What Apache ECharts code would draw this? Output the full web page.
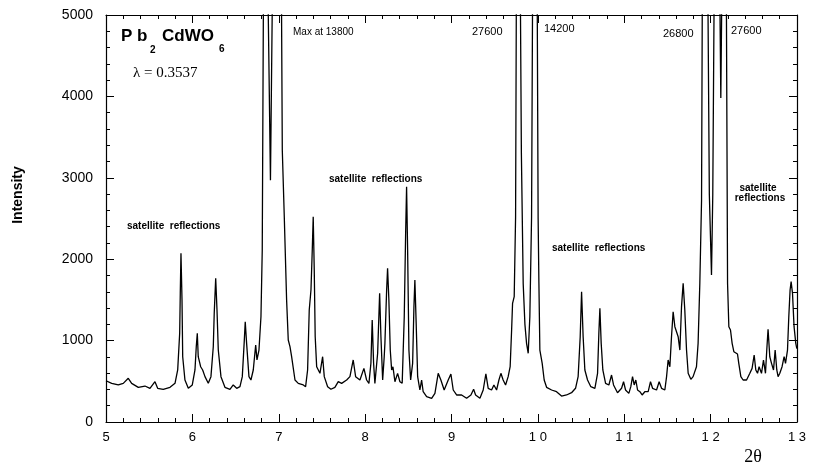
<!DOCTYPE html>
<html>
<head>
<meta charset="utf-8">
<title>Pb2CdWO6</title>
<script src="https://cdn.jsdelivr.net/npm/echarts@6/dist/echarts.min.js"></script>
<style>
  html, body { margin: 0; padding: 0; background: #fff; }
  #chart { width: 816px; height: 468px; }
</style>
</head>
<body>
<div id="chart"></div>
<script>
// 2-theta positions
const twoTheta = [
  5.000, 5.066, 5.142, 5.200, 5.258, 5.297, 5.374, 5.451, 5.509, 5.567,
  5.598, 5.663, 5.741, 5.799, 5.830, 5.853, 5.860, 5.868, 5.880, 5.888,
  5.914, 5.953, 5.999, 6.030, 6.045, 6.057, 6.068, 6.096, 6.119, 6.146,
  6.184, 6.215, 6.242, 6.253, 6.270, 6.285, 6.300, 6.331, 6.377, 6.435,
  6.473, 6.513, 6.551, 6.578, 6.601, 6.612, 6.628, 6.655, 6.678, 6.705,
  6.733, 6.748, 6.771, 6.794, 6.809, 6.823, 6.846, 6.875, 6.904, 6.927,
  6.973, 7.031, 7.041, 7.064, 7.091, 7.110, 7.130, 7.149, 7.188, 7.226,
  7.284, 7.311, 7.334, 7.353, 7.373, 7.388, 7.399, 7.411, 7.422, 7.439,
  7.477, 7.508, 7.527, 7.566, 7.604, 7.650, 7.689, 7.728, 7.786, 7.824,
  7.862, 7.890, 7.940, 7.986, 8.017, 8.044, 8.067, 8.082, 8.098, 8.113,
  8.145, 8.168, 8.183, 8.203, 8.221, 8.229, 8.249, 8.260, 8.275, 8.291,
  8.307, 8.322, 8.345, 8.376, 8.403, 8.429, 8.453, 8.469, 8.480, 8.492,
  8.507, 8.527, 8.550, 8.565, 8.576, 8.591, 8.608, 8.634, 8.654, 8.672,
  8.712, 8.770, 8.808, 8.846, 8.877, 8.915, 8.962, 8.993, 9.020, 9.059,
  9.117, 9.175, 9.225, 9.256, 9.279, 9.329, 9.367, 9.398, 9.425, 9.464,
  9.491, 9.522, 9.549, 9.572, 9.598, 9.626, 9.656, 9.679, 9.696, 9.707,
  9.726, 9.742, 9.751, 9.774, 9.797, 9.809, 9.830, 9.850, 9.869, 9.888,
  9.907, 9.927, 9.939, 9.963, 9.992, 10.003, 10.012, 10.023, 10.050, 10.073,
  10.101, 10.159, 10.216, 10.274, 10.332, 10.390, 10.436, 10.466, 10.490, 10.506,
  10.524, 10.544, 10.575, 10.613, 10.660, 10.691, 10.706, 10.718, 10.733, 10.752,
  10.784, 10.822, 10.853, 10.876, 10.922, 10.969, 10.992, 11.015, 11.053, 11.076,
  11.096, 11.115, 11.134, 11.154, 11.181, 11.207, 11.238, 11.277, 11.304, 11.328,
  11.374, 11.404, 11.432, 11.470, 11.490, 11.508, 11.528, 11.547, 11.566, 11.586,
  11.605, 11.624, 11.644, 11.663, 11.682, 11.701, 11.721, 11.740, 11.771, 11.797,
  11.836, 11.855, 11.875, 11.895, 11.904, 11.933, 11.968, 11.985, 12.010, 12.025,
  12.041, 12.072, 12.106, 12.118, 12.130, 12.153, 12.182, 12.196, 12.211, 12.230,
  12.249, 12.269, 12.288, 12.311, 12.326, 12.350, 12.376, 12.416, 12.454, 12.480,
  12.504, 12.523, 12.543, 12.561, 12.589, 12.612, 12.635, 12.650, 12.665, 12.685,
  12.705, 12.728, 12.747, 12.766, 12.781, 12.801, 12.827, 12.851, 12.867, 12.890,
  12.905, 12.920, 12.932, 12.948, 12.966, 12.986, 12.998
];

// intensity (counts) at each position; strong peaks run off the top
const intensity = [
  507, 475, 455, 475, 537, 475, 426, 442, 414, 495,
  414, 402, 426, 475, 639, 1090, 1581, 2072, 1499, 802,
  516, 414, 455, 639, 925, 1090, 802, 679, 639, 557,
  475, 557, 925, 1335, 1765, 1376, 884, 557, 426, 402,
  455, 414, 434, 557, 1000, 1232, 966, 557, 516, 639,
  946, 762, 884, 1294, 2113, 5300, 9000, 5300, 2970, 5300,
  13800, 5300, 3341, 2522, 1499, 1007, 925, 802, 516, 475,
  455, 434, 639, 1376, 1622, 2113, 2522, 1867, 1048, 679,
  598, 802, 557, 434, 402, 426, 495, 475, 516, 557,
  762, 557, 516, 659, 516, 475, 721, 1253, 725, 475,
  844, 1581, 1048, 516, 802, 966, 1622, 1888, 1499, 884,
  639, 679, 495, 598, 495, 475, 1294, 2318, 2891, 2113,
  884, 516, 721, 1417, 1745, 1213, 557, 393, 516, 372,
  311, 291, 352, 598, 516, 393, 516, 590, 393, 332,
  332, 291, 332, 402, 332, 291, 393, 590, 414, 393,
  455, 393, 516, 598, 516, 455, 557, 679, 1130, 1458,
  1540, 2522, 5300, 27600, 5300, 3300, 1700, 1200, 966, 844,
  1294, 2522, 5300, 14200, 5300, 2500, 1704, 884, 721, 516,
  426, 393, 372, 319, 332, 360, 414, 557, 1048, 1601,
  1048, 639, 516, 434, 414, 598, 1090, 1397, 966, 639,
  475, 455, 577, 455, 360, 414, 495, 393, 352, 434,
  557, 455, 516, 393, 372, 332, 372, 372, 495, 414,
  393, 495, 414, 393, 557, 762, 679, 1048, 1355, 1171,
  1151, 1048, 884, 1417, 1704, 1376, 884, 598, 524, 557,
  679, 966, 1704, 2727, 5300, 26800, 5300, 2800, 1806, 2800,
  5300, 27600, 5300, 3980, 5300, 20000, 5300, 1704, 1171, 1130,
  966, 864, 844, 835, 721, 557, 516, 516, 598, 659,
  823, 639, 598, 679, 598, 762, 598, 884, 1139, 802,
  721, 639, 884, 639, 557, 598, 679, 802, 721, 884,
  1294, 1622, 1724, 1581, 1171, 966, 900
];

const xTickLabels = ["5", "6", "7", "8", "9", "1 0", "1 1", "1 2", "1 3"];

const chart = echarts.init(document.getElementById("chart"), null, { renderer: "canvas" });
const sans = '"Liberation Sans", Arial, sans-serif';
const serif = '"Liberation Serif", "Times New Roman", serif';
const points = twoTheta.map((t, i) => [t, intensity[i]]);

// shared look of the frame axes
function frame(extra) {
  return Object.assign({
    type: "value",
    axisLine: { show: true, onZero: false, lineStyle: { color: "#000", width: 1.2 } },
    axisTick: { show: true, inside: true, length: 8, lineStyle: { color: "#000", width: 1 } },
    minorTick: { show: true, splitNumber: 5, length: 4, lineStyle: { color: "#000", width: 1 } },
    splitLine: { show: false },
    minorSplitLine: { show: false }
  }, extra);
}

function label(text, x, y, font, align) {
  return {
    type: "text", x: x, y: y, silent: true,
    style: { text: text, font: font, fill: "#000", align: align || "left", verticalAlign: "middle" }
  };
}

const option = {
  animation: false,
  backgroundColor: "#fff",
  grid: { left: 106, right: 19, top: 15, bottom: 46 },
  xAxis: [
    frame({
      min: 5, max: 13, interval: 1, position: "bottom",
      axisLabel: {
        margin: 9, color: "#000", fontSize: 13, fontFamily: sans,
        formatter: v => xTickLabels[Math.round(v - 5)]
      }
    }),
    frame({ min: 5, max: 13, interval: 1, position: "top", axisLabel: { show: false } })
  ],
  yAxis: [
    frame({
      min: 0, max: 5000, interval: 1000, position: "left",
      axisLabel: { margin: 13, color: "#000", fontSize: 14, fontFamily: sans, formatter: v => String(v) }
    }),
    frame({ min: 0, max: 5000, interval: 1000, position: "right", axisLabel: { show: false } })
  ],
  series: [{
    type: "line",
    data: points,
    xAxisIndex: 0,
    yAxisIndex: 0,
    symbol: "none",
    clip: true,
    lineStyle: { color: "#000", width: 1.3 }
  }],
  graphic: [
    label("P b", 121, 36, "bold 17px " + sans),
    label("2", 150, 50, "bold 10px " + sans),
    label("CdWO", 162, 36, "bold 17px " + sans),
    label("6", 219, 49, "bold 10px " + sans),
    label("λ = 0.3537", 133, 73, "15px " + serif),
    label("Max at 13800", 293, 32, "10px " + sans),
    label("27600", 472, 32, "11px " + sans),
    label("14200", 544, 29, "11px " + sans),
    label("26800", 663, 34, "11px " + sans),
    label("27600", 731, 31, "11px " + sans),
    label("satellite  reflections", 127, 226, "bold 10px " + sans),
    label("satellite  reflections", 329, 179, "bold 10px " + sans),
    label("satellite  reflections", 552, 248, "bold 10px " + sans),
    label("satellite", 758, 188, "bold 10px " + sans, "center"),
    label("reflections", 760, 198, "bold 10px " + sans, "center"),
    label("2θ", 753, 457, "18px " + serif, "center"),
    {
      type: "text", x: 18, y: 195, rotation: Math.PI / 2, silent: true,
      style: { text: "Intensity", font: "bold 14px " + sans, fill: "#000", align: "center", verticalAlign: "middle" }
    }
  ]
};

chart.setOption(option);
</script>
</body>
</html>
